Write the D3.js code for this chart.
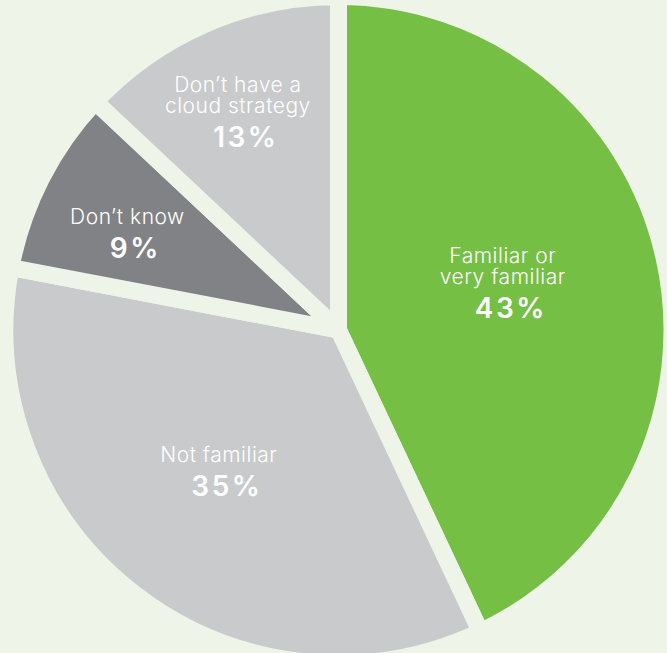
<html>
  <head>
    <meta charset="utf-8">
    <title>Cloud familiarity pie</title>
    <style>
      body { margin: 0; background: #eef5e8; }
      text { font-family: Inter, sans-serif; fill: #fff; }
    </style>
  </head>

  <body>
  	<div id="container"></div>
  </body>

  <script src="https://cdn.jsdelivr.net/npm/d3@7"></script>

  <script>
  // slice labels (each entry is a list of lines), values in percent, colours
  var labels = [["Familiar or", "very familiar"], ["Not familiar"], ["Don\u2019t know"], ["Don\u2019t have a", "cloud strategy"]];
  var values = [43, 35, 9, 13];
  var colors = ["#74bf44", "#c9cacc", "#818285", "#c9cacc"];

  // where each label block sits: distance from the centre (px) and a nudge off the bisector (deg)
  var labelDist = [171, 185, 232, 240];
  var labelNudge = [-3.5, 2.5, -2.5, -1.4];

  function main() {

  	var width = 667;
  	var height = 653;
  	var cx = 338.5, cy = 330;
  	var radius = 325;
  	var gap = 17;
  	var bg = "#eef5e8";

  	var svg = d3.select("#container").append("svg")
  		.attr("width", width)
  		.attr("height", height);

  	var g = svg.append("g")
  		.attr("transform", "translate(" + cx + "," + cy + ")");

  	var pie = d3.pie().sort(null)
  		.value(function(d) { return d.value; });

  	var data = values.map(function(v, i) {
  		return { value: v, label: labels[i], color: colors[i], i: i };
  	});
  	var arcs = pie(data);

  	// the stroke in the background colour cuts the gaps, so widen the arc by half of it
  	var arc = d3.arc().innerRadius(0).outerRadius(radius + gap / 2);

  	g.selectAll("path")
  		.data(arcs)
  		.enter().append("path")
  		.attr("d", arc)
  		.attr("fill", function(d) { return d.data.color; })
  		.attr("stroke", bg)
  		.attr("stroke-width", gap)
  		.attr("stroke-linejoin", "round");

  	function labelPos(d) {
  		var r = labelDist[d.data.i];
  		var a = (d.startAngle + d.endAngle) / 2 + labelNudge[d.data.i] * Math.PI / 180;
  		return [r * Math.sin(a), -r * Math.cos(a)];
  	}

  	var lineH = 21, capH = 15, pctGap = 34;
  	var labelG = g.selectAll("g.label")
  		.data(arcs)
  		.enter().append("g")
  		.attr("class", "label")
  		.attr("transform", function(d) {
  			var p = labelPos(d);
  			var n = d.data.label.length;
  			var h = capH + (n - 1) * lineH + pctGap;
  			// first baseline
  			var y0 = p[1] - h / 2 + capH;
  			return "translate(" + p[0] + "," + y0 + ")";
  		});

  	labelG.append("text")
  		.attr("text-anchor", "middle")
  		.style("font-size", "21px")
  		.style("font-weight", 300)
  		.style("letter-spacing", "0.5px")
  		.selectAll("tspan")
  		.data(function(d) { return d.data.label; })
  		.enter().append("tspan")
  		.attr("x", 0)
  		.attr("y", function(d, i) { return i * lineH; })
  		.text(function(d) { return d; });

  	labelG.append("text")
  		.attr("x", 8)
  		.attr("y", function(d) { return (d.data.label.length - 1) * lineH + pctGap; })
  		.attr("text-anchor", "middle")
  		.style("font-size", "28px")
  		.style("font-weight", 600)
  		.style("letter-spacing", "2.5px")
  		.text(function(d) { return d.data.value + "%"; });
  }

  window.onload = main;
  </script>
</html>
